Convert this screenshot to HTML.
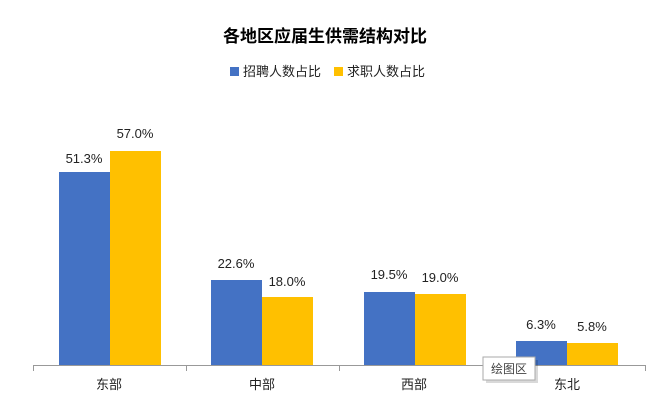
<!DOCTYPE html>
<html><head><meta charset="utf-8"><style>
body{margin:0;background:#fff;width:651px;height:412px;overflow:hidden;font-family:"Liberation Sans","Noto Sans CJK SC",sans-serif;}
</style></head><body>
<svg width="651" height="412" xmlns="http://www.w3.org/2000/svg" font-family="Liberation Sans, Noto Sans CJK SC, sans-serif">
<text x="325" y="42" text-anchor="middle" font-size="17" font-weight="bold" fill="#000">各地区应届生供需结构对比</text>
<rect x="230" y="67" width="9" height="9" fill="#4472C4"/>
<text x="243" y="76" font-size="13" fill="#222">招聘人数占比</text>
<rect x="334" y="67" width="9" height="9" fill="#FFC000"/>
<text x="347" y="76" font-size="13" fill="#222">求职人数占比</text>
<g fill="#4472C4">
<rect x="59" y="172" width="51" height="193"/>
<rect x="211" y="280" width="51" height="85"/>
<rect x="364" y="292" width="51" height="73"/>
<rect x="516" y="341" width="51" height="24"/>
</g>
<g fill="#FFC000">
<rect x="110" y="151" width="51" height="214"/>
<rect x="262" y="297" width="51" height="68"/>
<rect x="415" y="294" width="51" height="71"/>
<rect x="567" y="343" width="51" height="22"/>
</g>
<g font-size="13" fill="#222" text-anchor="middle">
<text x="84" y="163">51.3%</text><text x="135" y="138">57.0%</text>
<text x="236" y="268">22.6%</text><text x="287" y="286">18.0%</text>
<text x="389" y="279">19.5%</text><text x="440" y="282">19.0%</text>
<text x="541" y="329">6.3%</text><text x="592" y="331">5.8%</text>
</g>
<g stroke="#999" stroke-width="1">
<line x1="33" y1="365.5" x2="646" y2="365.5"/>
<line x1="33.5" y1="365" x2="33.5" y2="371"/>
<line x1="186.5" y1="365" x2="186.5" y2="371"/>
<line x1="339.5" y1="365" x2="339.5" y2="371"/>
<line x1="645.5" y1="365" x2="645.5" y2="371"/>
</g>
<g font-size="13" fill="#222" text-anchor="middle">
<text x="109" y="389">东部</text><text x="262" y="389">中部</text>
<text x="414" y="389">西部</text><text x="567" y="389">东北</text>
</g>
<rect x="486" y="360" width="52" height="23" fill="#000" opacity="0.15"/>
<rect x="483" y="357" width="52" height="23" fill="#fff" stroke="#aaa"/>
<text x="509" y="373" text-anchor="middle" font-size="12" fill="#444">绘图区</text>
</svg>
</body></html>
